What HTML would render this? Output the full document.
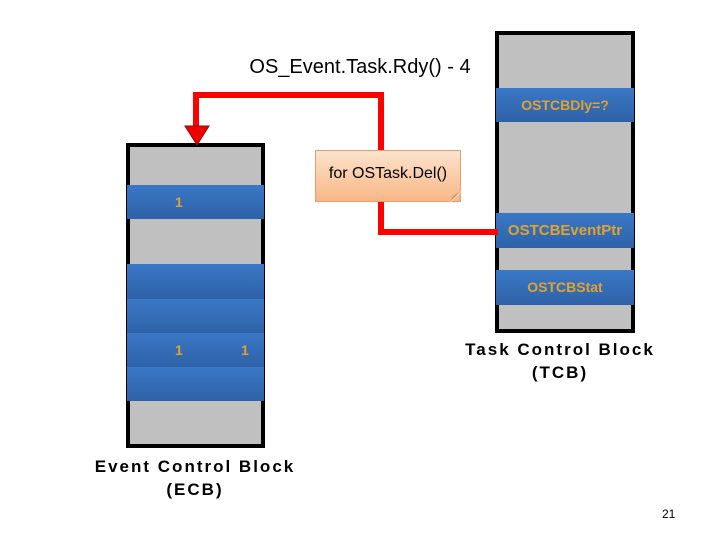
<!DOCTYPE html>
<html><head><style>
body{margin:0;width:720px;height:540px;background:#fff;position:relative;overflow:hidden;font-family:"Liberation Sans",sans-serif}
.a{position:absolute}
.box{position:absolute;background:#c0c0c0;border:4px solid #000;box-sizing:border-box}
.band{position:absolute;background:linear-gradient(#3a78c6,#2e62a8);color:#e3a22e;font-weight:bold;font-size:14px;text-align:center;box-sizing:border-box}
.r{position:absolute;background:#f00}
.lbl{position:absolute;font-weight:bold;font-size:17px;text-align:center;letter-spacing:2px;line-height:23px}
</style></head><body>
<div class="a" style="left:200px;top:56px;width:320px;text-align:center;font-size:20px">OS_Event.Task.Rdy() - 4</div>

<div class="box" style="left:126px;top:143px;width:139px;height:305px"></div>
<div class="band" style="left:127px;top:185px;width:137px;height:34px;line-height:34px;text-align:left;padding-left:48px">1</div>
<div class="band" style="left:127px;top:264px;width:137px;height:35px"></div>
<div class="band" style="left:127px;top:299px;width:137px;height:34px"></div>
<div class="band" style="left:127px;top:333px;width:137px;height:34px;line-height:34px;text-align:left;padding-left:48px">1<span style="position:absolute;left:114px">1</span></div>
<div class="band" style="left:127px;top:367px;width:137px;height:34px"></div>

<div class="box" style="left:495px;top:31px;width:140px;height:302px"></div>
<div class="band" style="left:496px;top:88px;width:138px;height:34px;line-height:34px">OSTCBDly=?</div>
<div class="band" style="left:496px;top:213px;width:138px;height:35px;line-height:35px;font-size:15px">OSTCBEventPtr</div>
<div class="band" style="left:496px;top:270px;width:138px;height:35px;line-height:35px">OSTCBStat</div>

<div class="r" style="left:193px;top:92px;width:191px;height:6px"></div>
<div class="r" style="left:193px;top:92px;width:6px;height:36px"></div>
<div class="r" style="left:378px;top:92px;width:6px;height:60px"></div>
<div class="r" style="left:378px;top:200px;width:6px;height:35px"></div>
<div class="r" style="left:378px;top:229px;width:120px;height:6px"></div>
<svg class="a" style="left:184px;top:124px" width="26" height="22"><polygon points="1,2 25,2 13,21" fill="#e00" stroke="#900" stroke-width="1"/></svg>

<div class="a" style="left:315px;top:150px;width:146px;height:52px;background:linear-gradient(#fde3cc,#f8b786);border:1px solid #e0a070;box-sizing:border-box;font-size:16px;line-height:46px;text-align:center">for OSTask.Del()</div>
<svg class="a" style="left:450px;top:191px" width="12" height="12"><polygon points="11,0 11,1 1,11 0,11" fill="#fff"/><polygon points="11,0 0,11 3,5" fill="#d09060"/></svg>

<div class="lbl" style="left:450px;top:338px;width:220px">Task Control Block<br>(TCB)</div>
<div class="lbl" style="left:85px;top:455px;width:220px">Event Control Block<br>(ECB)</div>
<div class="a" style="left:662px;top:507px;font-size:12px">21</div>
</body></html>
